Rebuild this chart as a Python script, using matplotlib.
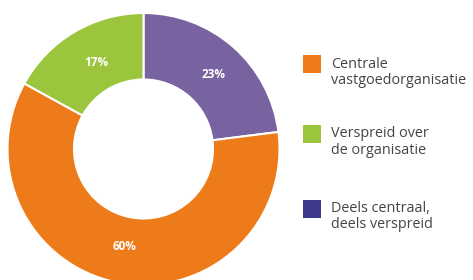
import matplotlib
matplotlib.use("Agg")
import matplotlib.pyplot as plt
from matplotlib.patches import Rectangle

# Data
categories = ["Deels centraal,\ndeels verspreid", "Centrale\nvastgoedorganisatie", "Verspreid over\nde organisatie"]
values = [23, 60, 17]
pie_colors = ["#7962A0", "#EE7B1A", "#9BC53D"]
pct_labels = ["23%", "60%", "17%"]

legend_labels = [["Centrale", "vastgoedorganisatie"],
                 ["Verspreid over", "de organisatie"],
                 ["Deels centraal,", "deels verspreid"]]
legend_colors = ["#EE7B1A", "#9BC53D", "#3E3A8C"]

W, H = 473, 280
fig = plt.figure(figsize=(W / 100, H / 100), dpi=100)
ax = fig.add_axes([0, 0, 1, 1])

cx, cy = 143.5, H - 149
R = 136
wedges, _ = ax.pie(values, colors=pie_colors, startangle=90, counterclock=False,
                   radius=R, center=(cx, cy), frame=True,
                   wedgeprops=dict(width=R - 69.5, edgecolor="white", linewidth=1.5))
ax.set_xlim(0, W)
ax.set_ylim(0, H)
ax.set_aspect("equal")
ax.axis("off")

# percentage labels
label_pos = [(214, 74), (125, 246), (96, 63)]
for (x, y), t in zip(label_pos, pct_labels):
    ax.text(x, H - y, t, color="white", fontsize=8.5, fontweight="bold",
            family="Open Sans", ha="center", va="center")

# legend
sq_y = [64, 133.5, 208.5]
for yc, col, lines in zip(sq_y, legend_colors, legend_labels):
    ax.add_patch(Rectangle((302.5, H - yc - 9), 18.5, 18, facecolor=col, edgecolor="none"))
    ax.text(331, H - yc, lines[0], fontsize=10.4, family="Open Sans", color="#444444",
            ha="left", va="center")
    ax.text(331, H - yc - 16.5, lines[1], fontsize=10.4, family="Open Sans", color="#444444",
            ha="left", va="center")

fig.savefig("out.png", dpi=100)
